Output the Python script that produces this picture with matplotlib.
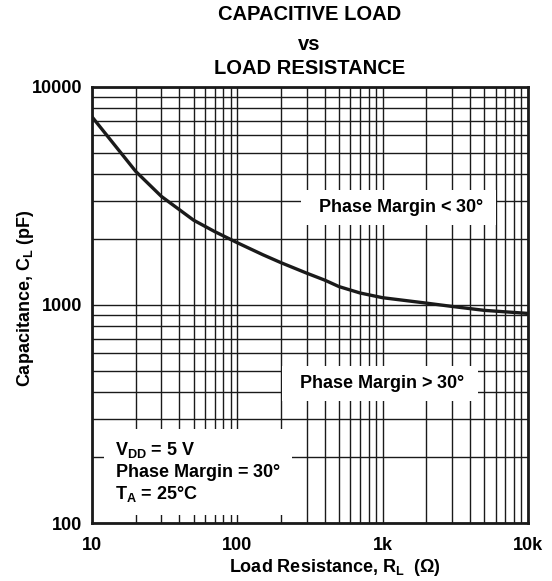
import matplotlib.pyplot as plt
from matplotlib.ticker import FixedLocator, NullFormatter, LogLocator

plt.rcParams['font.family'] = ['Liberation Sans', 'DejaVu Sans']
plt.rcParams['font.weight'] = 'bold'
plt.rcParams['mathtext.fontset'] = 'custom'
plt.rcParams['mathtext.rm'] = 'Liberation Sans'
plt.rcParams['mathtext.bf'] = 'Liberation Sans:bold'
plt.rcParams['mathtext.it'] = 'Liberation Sans:bold'
plt.rcParams['mathtext.default'] = 'bf'

# curve
load_res = [10, 20, 30, 50, 70, 100, 150, 200, 300, 400, 500, 700, 1000, 2000, 3000, 5000, 10000]
cap_load = [7300, 4100, 3150, 2450, 2170, 1930, 1700, 1563, 1400, 1300, 1215, 1135, 1080, 1020, 985, 945, 915]

x_ticks = [10, 100, 1000, 10000]
x_labels = ['10', '100', '1k', '10k']
y_ticks = [100, 1000, 10000]
y_labels = ['100', '1000', '10000']

W, H = 552, 581
fig = plt.figure(figsize=(W / 100, H / 100), dpi=100)
ax = fig.add_axes([92 / W, 1 - 523 / H, 436 / W, 436 / H])

ax.plot(load_res, cap_load, color='#1a1a1a', lw=2.4, zorder=3,
        solid_joinstyle='round')

ax.set_xscale('log')
ax.set_yscale('log')
ax.set_xlim(10, 10000)
ax.set_ylim(100, 10000)

ax.xaxis.set_major_locator(FixedLocator(x_ticks))
ax.yaxis.set_major_locator(FixedLocator(y_ticks))
ax.xaxis.set_minor_locator(LogLocator(base=10, subs=range(2, 10)))
ax.yaxis.set_minor_locator(LogLocator(base=10, subs=range(2, 10)))
ax.xaxis.set_minor_formatter(NullFormatter())
ax.yaxis.set_minor_formatter(NullFormatter())
ax.set_xticklabels(x_labels, fontsize=13, fontweight='bold')
ax.set_yticklabels(y_labels, fontsize=13, fontweight='bold')
ax.tick_params(which='both', length=0)
ax.tick_params(axis='x', pad=10)
ax.tick_params(axis='y', pad=7)

ax.grid(True, which='both', color='#1a1a1a', lw=1.0)
ax.set_axisbelow(True)
for s in ax.spines.values():
    s.set_linewidth(2.0)
    s.set_color('#1a1a1a')

ax.set_xlabel(r'Load Resistance, R$_\mathbf{L}$  ($\mathrm{\Omega}$)', fontsize=13,
              fontweight='bold', va='center')
ax.xaxis.set_label_coords((335 - 92) / 436, -(567 - 523) / 436)
ax.set_ylabel(r'Capacitance, C$_\mathbf{L}$ (pF)', fontsize=13,
              fontweight='bold', va='center')
ax.yaxis.set_label_coords(-(92 - 26) / 436, (523 - 298) / 436)

box = dict(facecolor='white', edgecolor='none', pad=5)
ax.text(1285, 2800, r'  Phase Margin < 30$\mathrm{\degree}$  ', fontsize=13,
        ha='center', va='center', bbox=box, zorder=4)
ax.text(960, 436, r'  Phase Margin > 30$\mathrm{\degree}$  ', fontsize=13,
        ha='center', va='center', bbox=box, zorder=4)
ax.text(14.4, 171, 'V$_\\mathbf{DD}$ = 5 V\nPhase Margin = 30$\\mathrm{\\degree}$\nT$_\\mathbf{A}$ = 25$\\mathrm{\\degree}$C',
        fontsize=13, ha='left', va='center', linespacing=1.1,
        bbox=dict(facecolor='white', edgecolor='none', pad=8), zorder=4)

for txt, yc in [('CAPACITIVE LOAD', 14.5), ('vs', 44), ('LOAD RESISTANCE', 69)]:
    fig.text(309.5 / W, 1 - yc / H, txt, ha='center', va='center',
             fontsize=14.5, fontweight='bold')

fig.savefig('out.png', dpi=100, facecolor='white')
